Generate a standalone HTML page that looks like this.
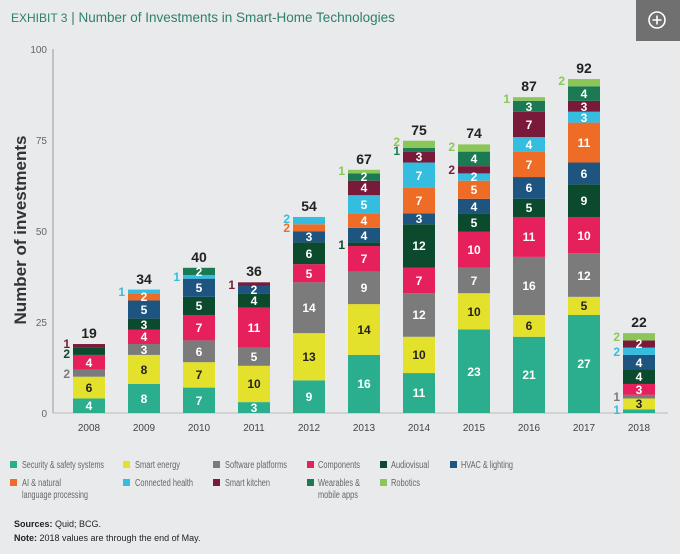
<!DOCTYPE html>
<html><head><meta charset="utf-8"><style>
html,body{margin:0;padding:0;background:#e9eaeb;}
svg{display:block;font-family:"Liberation Sans",sans-serif;}
.v{font-size:12px;font-weight:bold;fill:#fff;text-anchor:middle;}
.d{fill:#222;}
.o{font-size:12px;font-weight:bold;text-anchor:end;}
.t{font-size:14px;font-weight:bold;fill:#222;text-anchor:middle;}
.yr{font-size:10px;fill:#444;text-anchor:middle;}
.tk{font-size:10px;fill:#666;text-anchor:end;}
.lg{font-size:10px;fill:#666;}
</style></head><body>
<svg width="680" height="554" viewBox="0 0 680 554">
<rect width="680" height="554" fill="#e9eaeb"/>
<text x="11" y="22" font-size="13.5" fill="#2e7f6d"><tspan font-size="12">EXHIBIT 3</tspan> | Number of Investments in Smart-Home Technologies</text>
<rect x="636" y="0" width="44" height="41" fill="#707070"/>
<circle cx="657" cy="20" r="8" fill="none" stroke="#fff" stroke-width="1.6"/>
<path d="M657 15.5v9M652.5 20h9" stroke="#fff" stroke-width="1.6"/>

<text x="26" y="230" transform="rotate(-90 26 230)" font-size="17" font-weight="bold" fill="#333" text-anchor="middle">Number of investments</text>
<line x1="53" y1="49" x2="53" y2="413" stroke="#999" stroke-width="1"/>
<line x1="53" y1="413" x2="668" y2="413" stroke="#bbb" stroke-width="1"/>
<text class="tk" x="47" y="417">0</text>
<text class="tk" x="47" y="326">25</text>
<text class="tk" x="47" y="235">50</text>
<text class="tk" x="47" y="144">75</text>
<text class="tk" x="47" y="53">100</text>

<g transform="translate(0,413) scale(1,-3.63)">
<rect x="73" width="32" y="0" height="4" fill="#2bae8e"/><rect x="73" width="32" y="4" height="6" fill="#e3e12c"/><rect x="73" width="32" y="10" height="2" fill="#7b7b7b"/><rect x="73" width="32" y="12" height="4" fill="#e6205b"/><rect x="73" width="32" y="16" height="2" fill="#0c4a2e"/><rect x="73" width="32" y="18" height="1" fill="#7a1a3a"/>
<rect x="128" width="32" y="0" height="8" fill="#2bae8e"/><rect x="128" width="32" y="8" height="8" fill="#e3e12c"/><rect x="128" width="32" y="16" height="3" fill="#7b7b7b"/><rect x="128" width="32" y="19" height="4" fill="#e6205b"/><rect x="128" width="32" y="23" height="3" fill="#0c4a2e"/><rect x="128" width="32" y="26" height="5" fill="#1d5580"/><rect x="128" width="32" y="31" height="2" fill="#ef6c27"/><rect x="128" width="32" y="33" height="1" fill="#35bde0"/>
<rect x="183" width="32" y="0" height="7" fill="#2bae8e"/><rect x="183" width="32" y="7" height="7" fill="#e3e12c"/><rect x="183" width="32" y="14" height="6" fill="#7b7b7b"/><rect x="183" width="32" y="20" height="7" fill="#e6205b"/><rect x="183" width="32" y="27" height="5" fill="#0c4a2e"/><rect x="183" width="32" y="32" height="5" fill="#1d5580"/><rect x="183" width="32" y="37" height="1" fill="#35bde0"/><rect x="183" width="32" y="38" height="2" fill="#1b7a53"/>
<rect x="238" width="32" y="0" height="3" fill="#2bae8e"/><rect x="238" width="32" y="3" height="10" fill="#e3e12c"/><rect x="238" width="32" y="13" height="5" fill="#7b7b7b"/><rect x="238" width="32" y="18" height="11" fill="#e6205b"/><rect x="238" width="32" y="29" height="4" fill="#0c4a2e"/><rect x="238" width="32" y="33" height="2" fill="#1d5580"/><rect x="238" width="32" y="35" height="1" fill="#7a1a3a"/>
<rect x="293" width="32" y="0" height="9" fill="#2bae8e"/><rect x="293" width="32" y="9" height="13" fill="#e3e12c"/><rect x="293" width="32" y="22" height="14" fill="#7b7b7b"/><rect x="293" width="32" y="36" height="5" fill="#e6205b"/><rect x="293" width="32" y="41" height="6" fill="#0c4a2e"/><rect x="293" width="32" y="47" height="3" fill="#1d5580"/><rect x="293" width="32" y="50" height="2" fill="#ef6c27"/><rect x="293" width="32" y="52" height="2" fill="#35bde0"/>
<rect x="348" width="32" y="0" height="16" fill="#2bae8e"/><rect x="348" width="32" y="16" height="14" fill="#e3e12c"/><rect x="348" width="32" y="30" height="9" fill="#7b7b7b"/><rect x="348" width="32" y="39" height="7" fill="#e6205b"/><rect x="348" width="32" y="46" height="1" fill="#0c4a2e"/><rect x="348" width="32" y="47" height="4" fill="#1d5580"/><rect x="348" width="32" y="51" height="4" fill="#ef6c27"/><rect x="348" width="32" y="55" height="5" fill="#35bde0"/><rect x="348" width="32" y="60" height="4" fill="#7a1a3a"/><rect x="348" width="32" y="64" height="2" fill="#1b7a53"/><rect x="348" width="32" y="66" height="1" fill="#8cc658"/>
<rect x="403" width="32" y="0" height="11" fill="#2bae8e"/><rect x="403" width="32" y="11" height="10" fill="#e3e12c"/><rect x="403" width="32" y="21" height="12" fill="#7b7b7b"/><rect x="403" width="32" y="33" height="7" fill="#e6205b"/><rect x="403" width="32" y="40" height="12" fill="#0c4a2e"/><rect x="403" width="32" y="52" height="3" fill="#1d5580"/><rect x="403" width="32" y="55" height="7" fill="#ef6c27"/><rect x="403" width="32" y="62" height="7" fill="#35bde0"/><rect x="403" width="32" y="69" height="3" fill="#7a1a3a"/><rect x="403" width="32" y="72" height="1" fill="#1b7a53"/><rect x="403" width="32" y="73" height="2" fill="#8cc658"/>
<rect x="458" width="32" y="0" height="23" fill="#2bae8e"/><rect x="458" width="32" y="23" height="10" fill="#e3e12c"/><rect x="458" width="32" y="33" height="7" fill="#7b7b7b"/><rect x="458" width="32" y="40" height="10" fill="#e6205b"/><rect x="458" width="32" y="50" height="5" fill="#0c4a2e"/><rect x="458" width="32" y="55" height="4" fill="#1d5580"/><rect x="458" width="32" y="59" height="5" fill="#ef6c27"/><rect x="458" width="32" y="64" height="2" fill="#35bde0"/><rect x="458" width="32" y="66" height="2" fill="#7a1a3a"/><rect x="458" width="32" y="68" height="4" fill="#1b7a53"/><rect x="458" width="32" y="72" height="2" fill="#8cc658"/>
<rect x="513" width="32" y="0" height="21" fill="#2bae8e"/><rect x="513" width="32" y="21" height="6" fill="#e3e12c"/><rect x="513" width="32" y="27" height="16" fill="#7b7b7b"/><rect x="513" width="32" y="43" height="11" fill="#e6205b"/><rect x="513" width="32" y="54" height="5" fill="#0c4a2e"/><rect x="513" width="32" y="59" height="6" fill="#1d5580"/><rect x="513" width="32" y="65" height="7" fill="#ef6c27"/><rect x="513" width="32" y="72" height="4" fill="#35bde0"/><rect x="513" width="32" y="76" height="7" fill="#7a1a3a"/><rect x="513" width="32" y="83" height="3" fill="#1b7a53"/><rect x="513" width="32" y="86" height="1" fill="#8cc658"/>
<rect x="568" width="32" y="0" height="27" fill="#2bae8e"/><rect x="568" width="32" y="27" height="5" fill="#e3e12c"/><rect x="568" width="32" y="32" height="12" fill="#7b7b7b"/><rect x="568" width="32" y="44" height="10" fill="#e6205b"/><rect x="568" width="32" y="54" height="9" fill="#0c4a2e"/><rect x="568" width="32" y="63" height="6" fill="#1d5580"/><rect x="568" width="32" y="69" height="11" fill="#ef6c27"/><rect x="568" width="32" y="80" height="3" fill="#35bde0"/><rect x="568" width="32" y="83" height="3" fill="#7a1a3a"/><rect x="568" width="32" y="86" height="4" fill="#1b7a53"/><rect x="568" width="32" y="90" height="2" fill="#8cc658"/>
<rect x="623" width="32" y="0" height="1" fill="#2bae8e"/><rect x="623" width="32" y="1" height="3" fill="#e3e12c"/><rect x="623" width="32" y="4" height="1" fill="#7b7b7b"/><rect x="623" width="32" y="5" height="3" fill="#e6205b"/><rect x="623" width="32" y="8" height="4" fill="#0c4a2e"/><rect x="623" width="32" y="12" height="4" fill="#1d5580"/><rect x="623" width="32" y="16" height="2" fill="#35bde0"/><rect x="623" width="32" y="18" height="2" fill="#7a1a3a"/><rect x="623" width="32" y="20" height="2" fill="#8cc658"/>
</g>

<text class="v" x="89" y="410">4</text><text class="v d" x="89" y="392">6</text><text class="o" x="70" y="378" fill="#7b7b7b">2</text><text class="v" x="89" y="367">4</text><text class="o" x="70" y="358" fill="#0c4a2e">2</text><text class="o" x="70" y="348" fill="#7a1a3a">1</text><text class="t" x="89" y="338">19</text>
<text class="v" x="144" y="403">8</text><text class="v d" x="144" y="374">8</text><text class="v" x="144" y="354">3</text><text class="v" x="144" y="341">4</text><text class="v" x="144" y="329">3</text><text class="v" x="144" y="314">5</text><text class="v" x="144" y="301">2</text><text class="o" x="125" y="296" fill="#35bde0">1</text><text class="t" x="144" y="284">34</text>
<text class="v" x="199" y="405">7</text><text class="v d" x="199" y="379">7</text><text class="v" x="199" y="356">6</text><text class="v" x="199" y="332">7</text><text class="v" x="199" y="310">5</text><text class="v" x="199" y="292">5</text><text class="o" x="180" y="281" fill="#35bde0">1</text><text class="v" x="199" y="276">2</text><text class="t" x="199" y="262">40</text>
<text class="v" x="254" y="412">3</text><text class="v d" x="254" y="388">10</text><text class="v" x="254" y="361">5</text><text class="v" x="254" y="332">11</text><text class="v" x="254" y="305">4</text><text class="v" x="254" y="294">2</text><text class="o" x="235" y="289" fill="#7a1a3a">1</text><text class="t" x="254" y="276">36</text>
<text class="v" x="309" y="401">9</text><text class="v d" x="309" y="361">13</text><text class="v" x="309" y="312">14</text><text class="v" x="309" y="278">5</text><text class="v" x="309" y="258">6</text><text class="v" x="309" y="241">3</text><text class="o" x="290" y="232" fill="#ef6c27">2</text><text class="o" x="290" y="223" fill="#35bde0">2</text><text class="t" x="309" y="211">54</text>
<text class="v" x="364" y="388">16</text><text class="v d" x="364" y="334">14</text><text class="v" x="364" y="292">9</text><text class="v" x="364" y="263">7</text><text class="o" x="345" y="249" fill="#0c4a2e">1</text><text class="v" x="364" y="240">4</text><text class="v" x="364" y="225">4</text><text class="v" x="364" y="209">5</text><text class="v" x="364" y="192">4</text><text class="v" x="364" y="181">2</text><text class="o" x="345" y="175" fill="#8cc658">1</text><text class="t" x="364" y="164">67</text>
<text class="v" x="419" y="397">11</text><text class="v d" x="419" y="359">10</text><text class="v" x="419" y="319">12</text><text class="v" x="419" y="285">7</text><text class="v" x="419" y="250">12</text><text class="v" x="419" y="223">3</text><text class="v" x="419" y="205">7</text><text class="v" x="419" y="180">7</text><text class="v" x="419" y="161">3</text><text class="o" x="400" y="155" fill="#1b7a53">1</text><text class="o" x="400" y="146" fill="#8cc658">2</text><text class="t" x="419" y="135">75</text>
<text class="v" x="474" y="376">23</text><text class="v d" x="474" y="316">10</text><text class="v" x="474" y="285">7</text><text class="v" x="474" y="254">10</text><text class="v" x="474" y="227">5</text><text class="v" x="474" y="211">4</text><text class="v" x="474" y="194">5</text><text class="v" x="474" y="181">2</text><text class="o" x="455" y="174" fill="#7a1a3a">2</text><text class="v" x="474" y="163">4</text><text class="o" x="455" y="151" fill="#8cc658">2</text><text class="t" x="474" y="138">74</text>
<text class="v" x="529" y="379">21</text><text class="v d" x="529" y="330">6</text><text class="v" x="529" y="290">16</text><text class="v" x="529" y="241">11</text><text class="v" x="529" y="212">5</text><text class="v" x="529" y="192">6</text><text class="v" x="529" y="169">7</text><text class="v" x="529" y="149">4</text><text class="v" x="529" y="129">7</text><text class="v" x="529" y="111">3</text><text class="o" x="510" y="103" fill="#8cc658">1</text><text class="t" x="529" y="91">87</text>
<text class="v" x="584" y="368">27</text><text class="v d" x="584" y="310">5</text><text class="v" x="584" y="280">12</text><text class="v" x="584" y="240">10</text><text class="v" x="584" y="205">9</text><text class="v" x="584" y="178">6</text><text class="v" x="584" y="147">11</text><text class="v" x="584" y="122">3</text><text class="v" x="584" y="111">3</text><text class="v" x="584" y="98">4</text><text class="o" x="565" y="85" fill="#8cc658">2</text><text class="t" x="584" y="73">92</text>
<text class="o" x="620" y="414" fill="#35bde0">1</text><text class="v d" x="639" y="408">3</text><text class="o" x="620" y="401" fill="#7b7b7b">1</text><text class="v" x="639" y="394">3</text><text class="v" x="639" y="381">4</text><text class="v" x="639" y="367">4</text><text class="o" x="620" y="356" fill="#35bde0">2</text><text class="v" x="639" y="348">2</text><text class="o" x="620" y="341" fill="#8cc658">2</text><text class="t" x="639" y="327">22</text>

<text class="yr" x="89" y="431">2008</text><text class="yr" x="144" y="431">2009</text><text class="yr" x="199" y="431">2010</text><text class="yr" x="254" y="431">2011</text><text class="yr" x="309" y="431">2012</text><text class="yr" x="364" y="431">2013</text><text class="yr" x="419" y="431">2014</text><text class="yr" x="474" y="431">2015</text><text class="yr" x="529" y="431">2016</text><text class="yr" x="584" y="431">2017</text><text class="yr" x="639" y="431">2018</text>

<rect x="10" y="461" width="7" height="7" fill="#2bae8e"/><text class="lg" x="22" y="468" textLength="82" lengthAdjust="spacingAndGlyphs">Security &amp; safety systems</text>
<rect x="123" y="461" width="7" height="7" fill="#e3e12c"/><text class="lg" x="135" y="468" textLength="45" lengthAdjust="spacingAndGlyphs">Smart energy</text>
<rect x="213" y="461" width="7" height="7" fill="#7b7b7b"/><text class="lg" x="225" y="468" textLength="62" lengthAdjust="spacingAndGlyphs">Software platforms</text>
<rect x="307" y="461" width="7" height="7" fill="#e6205b"/><text class="lg" x="318" y="468" textLength="42" lengthAdjust="spacingAndGlyphs">Components</text>
<rect x="380" y="461" width="7" height="7" fill="#0c4a2e"/><text class="lg" x="391" y="468" textLength="38" lengthAdjust="spacingAndGlyphs">Audiovisual</text>
<rect x="450" y="461" width="7" height="7" fill="#1d5580"/><text class="lg" x="461" y="468" textLength="52" lengthAdjust="spacingAndGlyphs">HVAC &amp; lighting</text>
<rect x="10" y="479" width="7" height="7" fill="#ef6c27"/><text class="lg" x="22" y="486" textLength="39" lengthAdjust="spacingAndGlyphs">AI &amp; natural</text><text class="lg" x="22" y="498" textLength="66" lengthAdjust="spacingAndGlyphs">language processing</text>
<rect x="123" y="479" width="7" height="7" fill="#35bde0"/><text class="lg" x="135" y="486" textLength="58" lengthAdjust="spacingAndGlyphs">Connected health</text>
<rect x="213" y="479" width="7" height="7" fill="#7a1a3a"/><text class="lg" x="225" y="486" textLength="45" lengthAdjust="spacingAndGlyphs">Smart kitchen</text>
<rect x="307" y="479" width="7" height="7" fill="#1b7a53"/><text class="lg" x="318" y="486" textLength="42" lengthAdjust="spacingAndGlyphs">Wearables &amp;</text><text class="lg" x="318" y="498" textLength="40" lengthAdjust="spacingAndGlyphs">mobile apps</text>
<rect x="380" y="479" width="7" height="7" fill="#8cc658"/><text class="lg" x="391" y="486" textLength="29" lengthAdjust="spacingAndGlyphs">Robotics</text>

<text x="14" y="527" font-size="9" fill="#222"><tspan font-weight="bold">Sources:</tspan> Quid; BCG.</text>
<text x="14" y="541" font-size="9" fill="#222"><tspan font-weight="bold">Note:</tspan> 2018 values are through the end of May.</text>
</svg>
</body></html>
